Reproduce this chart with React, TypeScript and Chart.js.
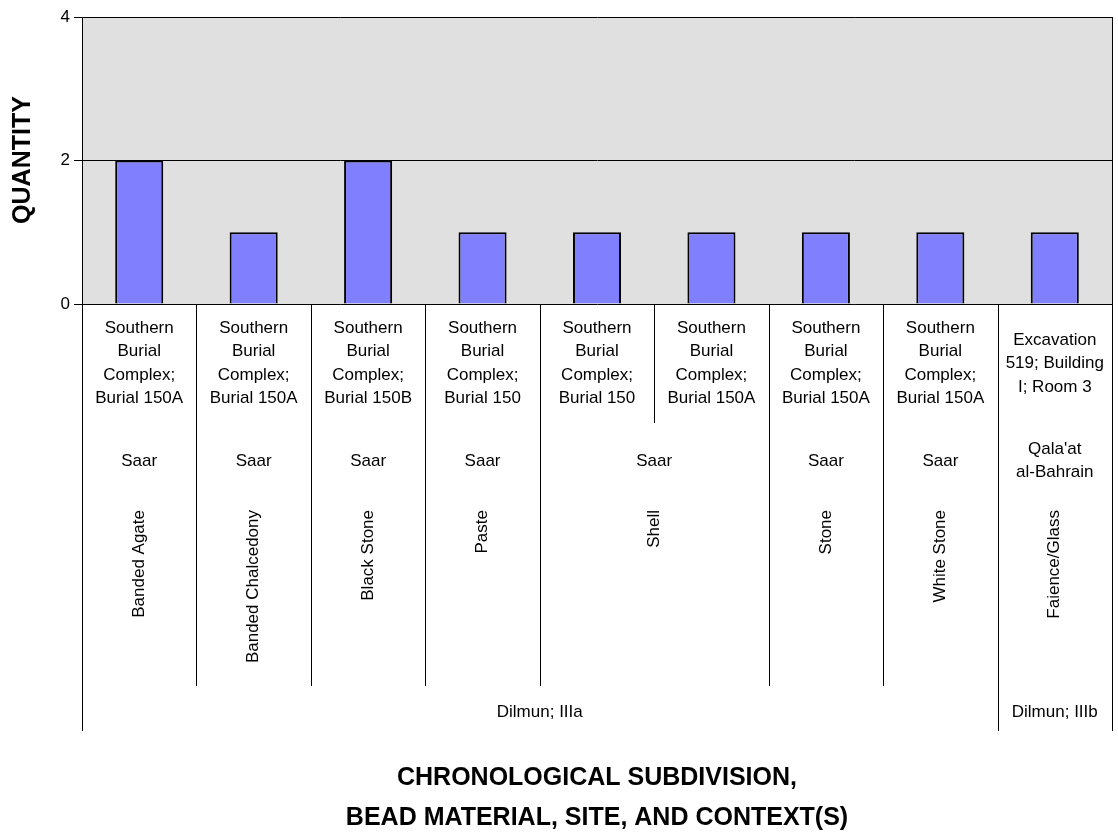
import React, { useEffect, useRef } from "react";
import { Chart, registerables } from "chart.js";

Chart.register(...registerables);

const FONT = '"Liberation Sans", Arial, sans-serif';

const quantities = [2, 1, 2, 1, 1, 1, 1, 1, 1];

const contexts = [
  ["Southern", "Burial", "Complex;", "Burial 150A"],
  ["Southern", "Burial", "Complex;", "Burial 150A"],
  ["Southern", "Burial", "Complex;", "Burial 150B"],
  ["Southern", "Burial", "Complex;", "Burial 150"],
  ["Southern", "Burial", "Complex;", "Burial 150"],
  ["Southern", "Burial", "Complex;", "Burial 150A"],
  ["Southern", "Burial", "Complex;", "Burial 150A"],
  ["Southern", "Burial", "Complex;", "Burial 150A"],
  ["Excavation", "519; Building", "I; Room 3"],
];

const sites = [
  ["Saar"],
  ["Saar"],
  ["Saar"],
  ["Saar"],
  ["Saar"],
  ["Saar"],
  ["Saar"],
  ["Saar"],
  ["Qala'at", "al-Bahrain"],
];

const materials = [
  "Banded Agate",
  "Banded Chalcedony",
  "Black Stone",
  "Paste",
  "Shell",
  "Shell",
  "Stone",
  "White Stone",
  "Faience/Glass",
];

const periods = [
  "Dilmun; IIIa",
  "Dilmun; IIIa",
  "Dilmun; IIIa",
  "Dilmun; IIIa",
  "Dilmun; IIIa",
  "Dilmun; IIIa",
  "Dilmun; IIIa",
  "Dilmun; IIIa",
  "Dilmun; IIIb",
];

const yTicks = [0, 2, 4];

const yTitle = "QUANTITY";
const xTitleLines = ["CHRONOLOGICAL SUBDIVISION,", "BEAD MATERIAL, SITE, AND CONTEXT(S)"];

const categoryKeys = quantities.map((_, i) => contexts[i].join(" ") + "|" + materials[i]);

export default function App() {
  const ref = useRef<HTMLCanvasElement | null>(null);

  useEffect(() => {
    const canvas = ref.current;
    if (!canvas) return;

    const levelKey = (level: number, i: number) => {
      const parts: string[] = [];
      if (level <= 3) parts.push(periods[i]);
      if (level <= 2) parts.push(materials[i]);
      if (level <= 1) parts.push(sites[i].join(" "));
      if (level <= 0) parts.push(contexts[i].join(" "));
      return parts.join("||");
    };
    const levelBottoms = [423, 499, 686, 731];

    const bgPlugin = {
      id: "bg",
      beforeDraw(chart: any) {
        const { ctx, chartArea } = chart;
        ctx.save();
        ctx.fillStyle = "#ffffff";
        ctx.fillRect(0, 0, chart.width, chart.height);
        ctx.fillStyle = "#e0e0e0";
        ctx.fillRect(chartArea.left, chartArea.top, chartArea.right - chartArea.left, chartArea.bottom - chartArea.top);
        ctx.restore();
      },
    };

    const labelsPlugin = {
      id: "multiLabels",
      afterDraw(chart: any) {
        const { ctx, chartArea } = chart;
        const xs = chart.scales.x;
        const n = quantities.length;
        const step = xs.getPixelForValue(1) - xs.getPixelForValue(0);
        const leftOf = (i: number) => xs.getPixelForValue(i) - step / 2;
        const top = chartArea.bottom;

        ctx.save();
        ctx.strokeStyle = "#000";
        ctx.lineWidth = 1;
        ctx.beginPath();
        ctx.moveTo(Math.round(chartArea.right) + 0.5, chartArea.top);
        ctx.lineTo(Math.round(chartArea.right) + 0.5, levelBottoms[3]);
        ctx.stroke();

        for (let b = 0; b <= n; b++) {
          let depth = levelBottoms[3];
          if (b > 0 && b < n) {
            depth = 0;
            for (let lv = 3; lv >= 0; lv--) {
              if (levelKey(lv, b - 1) !== levelKey(lv, b)) {
                depth = levelBottoms[lv];
                break;
              }
            }
          }
          if (depth > 0) {
            const x = b === n ? Math.round(chartArea.right) + 0.5 : Math.round(leftOf(b)) + 0.5;
            ctx.beginPath();
            ctx.moveTo(x, top);
            ctx.lineTo(x, depth);
            ctx.stroke();
          }
        }

        const groups = (lv: number) => {
          const out: { s: number; e: number }[] = [];
          let s = 0;
          for (let i = 1; i <= n; i++) {
            if (i === n || levelKey(lv, i) !== levelKey(lv, s)) {
              out.push({ s, e: i - 1 });
              s = i;
            }
          }
          return out;
        };
        const centerOf = (g: { s: number; e: number }) =>
          (xs.getPixelForValue(g.s) + xs.getPixelForValue(g.e)) / 2;

        ctx.fillStyle = "#000";
        ctx.font = `17px ${FONT}`;
        ctx.textAlign = "center";
        ctx.textBaseline = "middle";
        const lh = 23.5;

        for (const g of groups(0)) {
          const lines = contexts[g.s];
          const cy = 363.5;
          const y0 = cy - ((lines.length - 1) * lh) / 2;
          lines.forEach((t, k) => ctx.fillText(t, centerOf(g), y0 + k * lh));
        }
        for (const g of groups(1)) {
          const lines = sites[g.s];
          const cy = 461;
          const y0 = cy - ((lines.length - 1) * lh) / 2;
          lines.forEach((t, k) => ctx.fillText(t, centerOf(g), y0 + k * lh));
        }
        for (const g of groups(2)) {
          ctx.save();
          ctx.translate(centerOf(g), 510);
          ctx.rotate(-Math.PI / 2);
          ctx.textAlign = "right";
          ctx.textBaseline = "middle";
          ctx.fillText(materials[g.s], 0, 0);
          ctx.restore();
        }
        for (const g of groups(3)) {
          ctx.fillText(periods[g.s], centerOf(g), 712);
        }

        ctx.save();
        ctx.font = `bold 25px ${FONT}`;
        ctx.translate(23, 160);
        ctx.rotate(-Math.PI / 2);
        ctx.textAlign = "center";
        ctx.textBaseline = "middle";
        ctx.fillText(yTitle, 0, 0);
        ctx.restore();

        ctx.font = `bold 25px ${FONT}`;
        ctx.textAlign = "center";
        ctx.textBaseline = "middle";
        const cx = (chartArea.left + chartArea.right) / 2;
        ctx.fillText(xTitleLines[0], cx, 778);
        ctx.fillText(xTitleLines[1], cx, 818);
        ctx.restore();
      },
    };

    const chart = new Chart(canvas, {
      type: "bar",
      data: {
        labels: categoryKeys,
        datasets: [
          {
            data: quantities,
            backgroundColor: "#8080ff",
            borderColor: "#000000",
            borderWidth: 2,
            barPercentage: 0.42,
            categoryPercentage: 1,
          },
        ],
      },
      options: {
        responsive: false,
        animation: false,
        layout: { padding: { left: 0, top: 17, right: 6, bottom: 530 } },
        plugins: { legend: { display: false }, tooltip: { enabled: false }, title: { display: false } },
        scales: {
          x: {
            display: false,
            offset: true,
            grid: { display: false },
          },
          y: {
            min: 0,
            max: 4,
            afterFit: (s: any) => {
              s.width = 82;
            },
            afterBuildTicks: (s: any) => {
              s.ticks = yTicks.map((v) => ({ value: v }));
            },
            ticks: {
              stepSize: 2,
              color: "#000",
              font: { size: 17, family: FONT },
              padding: 4,
            },
            grid: { color: "#000", lineWidth: 1, tickLength: 8, drawTicks: true },
            border: { display: true, color: "#000" },
          },
        },
      },
      plugins: [bgPlugin, labelsPlugin],
    });

    return () => chart.destroy();
  }, []);

  return (
    <div style={{ position: "fixed", left: 0, top: 0, width: 1118, height: 834, background: "#fff" }}>
      <canvas ref={ref} width={1118} height={834} style={{ display: "block" }} />
    </div>
  );
}
